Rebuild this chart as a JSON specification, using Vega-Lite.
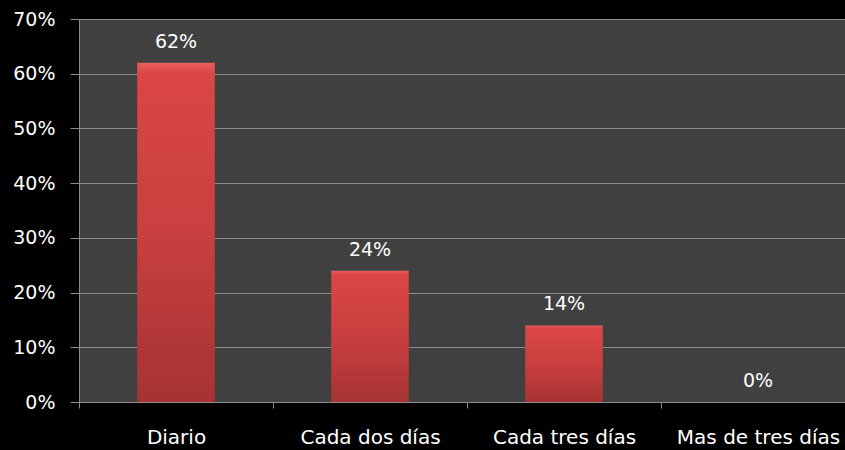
{
  "$schema": "https://vega.github.io/schema/vega-lite/v6.json",
  "width": 776,
  "height": 383,
  "autosize": "none",
  "padding": {"left": 79, "top": 19, "right": 0, "bottom": 48},
  "background": "#000000",
  "config": {
    "view": {"fill": "#404040", "stroke": null},
    "font": "DejaVu Sans"
  },
  "data": {
    "values": [
      {"categoria": "Diario", "valor": 0.62},
      {"categoria": "Cada dos días", "valor": 0.24},
      {"categoria": "Cada tres días", "valor": 0.14},
      {"categoria": "Mas de tres días", "valor": 0.0}
    ]
  },
  "encoding": {
    "x": {
      "field": "categoria",
      "type": "nominal",
      "sort": null,
      "scale": {"paddingInner": 0, "paddingOuter": 0},
      "axis": {
        "title": null,
        "labelAngle": 0,
        "grid": false,
        "domainColor": "#8c8c8c",
        "tickColor": "#8c8c8c",
        "tickSize": 6,
        "tickBand": "extent",
        "labelColor": "#ffffff",
        "labelFont": "DejaVu Sans",
        "labelFontSize": 20,
        "labelPadding": 19,
        "labelOverlap": false
      }
    },
    "y": {
      "field": "valor",
      "type": "quantitative",
      "scale": {"domain": [0, 0.7], "nice": false},
      "axis": {
        "title": null,
        "format": ".0%",
        "values": [0, 0.1, 0.2, 0.3, 0.4, 0.5, 0.6, 0.7],
        "domainColor": "#8c8c8c",
        "tickColor": "#8c8c8c",
        "tickSize": 9,
        "labelPadding": 15,
        "labelColor": "#ffffff",
        "labelFont": "DejaVu Sans",
        "labelFontSize": 19,
        "gridColor": "#8c8c8c",
        "gridWidth": 1
      }
    }
  },
  "layer": [
    {
      "mark": {
        "type": "bar",
        "width": {"band": 0.4},
        "strokeWidth": 0,
        "color": {
          "gradient": "linear",
          "x1": 0, "y1": 0, "x2": 0, "y2": 1,
          "stops": [
            {"offset": 0, "color": "#ea6060"},
            {"offset": 0.03, "color": "#db4646"},
            {"offset": 0.5, "color": "#c93f3f"},
            {"offset": 1, "color": "#a63333"}
          ]
        }
      }
    },
    {
      "mark": {
        "type": "text",
        "dy": -15,
        "baseline": "alphabetic",
        "color": "#ffffff",
        "font": "DejaVu Sans",
        "fontSize": 19
      },
      "encoding": {
        "text": {"field": "valor", "type": "quantitative", "format": ".0%"}
      }
    }
  ]
}
